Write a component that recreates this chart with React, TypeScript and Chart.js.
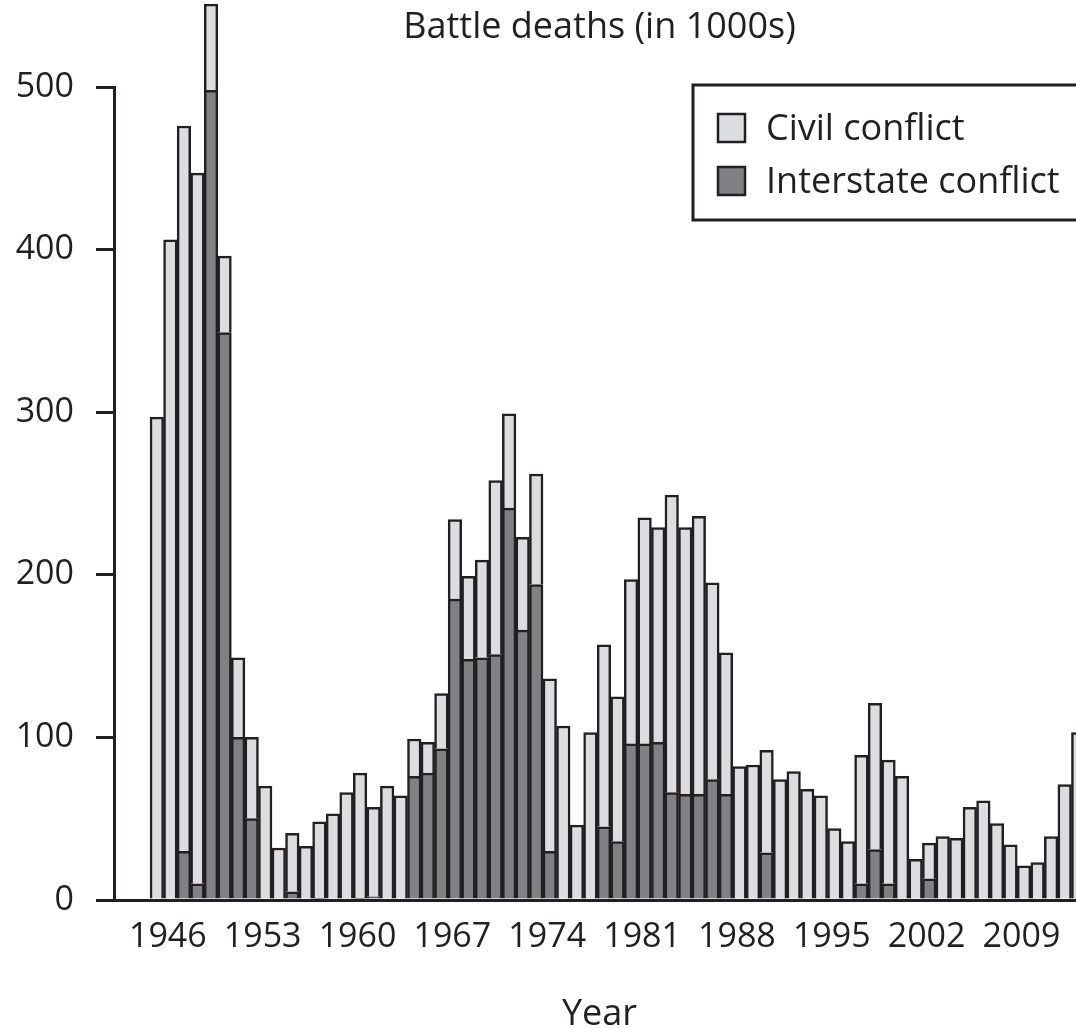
import React, { useEffect, useRef } from "react";
import { Chart, registerables } from "chart.js";

Chart.register(...registerables);

const years = [
  1946, 1947, 1948, 1949, 1950, 1951, 1952, 1953, 1954, 1955, 1956, 1957, 1958, 1959,
  1960, 1961, 1962, 1963, 1964, 1965, 1966, 1967, 1968, 1969, 1970, 1971, 1972, 1973,
  1974, 1975, 1976, 1977, 1978, 1979, 1980, 1981, 1982, 1983, 1984, 1985, 1986, 1987,
  1988, 1989, 1990, 1991, 1992, 1993, 1994, 1995, 1996, 1997, 1998, 1999, 2000, 2001,
  2002, 2003, 2004, 2005, 2006, 2007, 2008, 2009, 2010, 2011, 2012, 2013, 2014,
];

// Battle deaths in 1000s
const interstateDeaths = [
  0, 0, 30, 10, 498, 349, 100, 50, 0, 0, 5, 0, 1, 0,
  0, 1, 2, 0, 0, 76, 78, 93, 185, 148, 149, 151, 241, 166,
  194, 30, 0, 0, 0, 45, 36, 96, 96, 97, 66, 65, 65, 74,
  65, 0, 0, 29, 0, 0, 0, 0, 0, 0, 10, 31, 10, 0,
  0, 13, 0, 0, 0, 0, 0, 0, 0, 0, 0, 0, 0,
];

const civilDeaths = [
  297, 406, 446, 437, 53, 47, 49, 50, 70, 32, 36, 33, 47, 53,
  66, 77, 55, 70, 64, 23, 19, 34, 49, 51, 60, 107, 58, 57,
  68, 106, 107, 46, 103, 112, 89, 101, 139, 132, 183, 164, 171, 121,
  87, 82, 83, 63, 74, 79, 68, 64, 44, 36, 79, 90, 76, 76,
  25, 22, 39, 38, 57, 61, 47, 34, 21, 23, 39, 71, 103,
];

const xTickYears = [1946, 1953, 1960, 1967, 1974, 1981, 1988, 1995, 2002, 2009];
const yTickValues = [0, 100, 200, 300, 400, 500];

const LIGHT = "#dcdde0";
const DARK = "#808185";
const INK = "#231f20";
const FONT = "'Open Sans', 'DejaVu Sans', sans-serif";

const overlayPlugin = {
  id: "overlayText",
  afterDraw(chart: any) {
    const ctx = chart.ctx;
    const area = chart.chartArea;
    ctx.save();
    // top title
    ctx.fillStyle = INK;
    ctx.font = `36px ${FONT}`;
    ctx.textAlign = "center";
    ctx.textBaseline = "middle";
    ctx.fillText("Battle deaths (in 1000s)", (area.left + area.right) / 2, 28);

    // boxed legend
    const bx = 693;
    const by = 85;
    const bw = 420;
    const bh = 135;
    ctx.fillStyle = "#ffffff";
    ctx.fillRect(bx, by, bw, bh);
    ctx.lineWidth = 3;
    ctx.strokeStyle = INK;
    ctx.strokeRect(bx, by, bw, bh);

    const items = [
      { label: "Civil conflict", color: LIGHT, cy: 128 },
      { label: "Interstate conflict", color: DARK, cy: 181 },
    ];
    ctx.textAlign = "left";
    ctx.textBaseline = "middle";
    ctx.font = `36px ${FONT}`;
    for (const it of items) {
      ctx.fillStyle = it.color;
      ctx.fillRect(718, it.cy - 14, 27, 28);
      ctx.lineWidth = 2.5;
      ctx.strokeStyle = INK;
      ctx.strokeRect(718, it.cy - 14, 27, 28);
      ctx.fillStyle = INK;
      ctx.fillText(it.label, 766, it.cy + 2);
    }
    ctx.restore();
  },
};

export default function App() {
  const canvasRef = useRef<HTMLCanvasElement | null>(null);

  useEffect(() => {
    const canvas = canvasRef.current;
    if (!canvas) return;
    const barCommon = {
      borderColor: INK,
      borderWidth: 2.5,
      barPercentage: 1,
      categoryPercentage: 1,
      clip: false as any,
    };
    const chart = new Chart(canvas, {
      type: "bar",
      data: {
        datasets: [
          {
            label: "Interstate conflict",
            data: years.map((yr, i) => ({ x: yr, y: interstateDeaths[i] })),
            backgroundColor: DARK,
            ...barCommon,
          },
          {
            label: "Civil conflict",
            data: years.map((yr, i) => ({ x: yr, y: civilDeaths[i] })),
            backgroundColor: LIGHT,
            ...barCommon,
          },
        ],
      } as any,
      options: {
        animation: false,
        responsive: false,
        devicePixelRatio: 1,
        layout: { padding: { top: 87, right: 5, left: 0, bottom: 0 } },
        plugins: {
          legend: { display: false },
          tooltip: { enabled: false },
          title: { display: false },
        },
        scales: {
          x: {
            type: "linear",
            min: 1942.84,
            max: 2014.5,
            offset: false,
            stacked: true,
            grid: { display: false, drawTicks: false },
            border: { display: true, color: INK, width: 3 },
            afterBuildTicks: (scale: any) => {
              scale.ticks = xTickYears.map((v) => ({ value: v }));
            },
            afterFit: (scale: any) => {
              scale.height = 128;
            },
            ticks: {
              autoSkip: false,
              maxRotation: 0,
              padding: 17,
              labelOffset: 11,
              color: INK,
              font: { family: FONT, size: 34 },
              callback: (v: any) => String(v),
            },
            title: {
              display: true,
              text: "Year",
              color: INK,
              font: { family: FONT, size: 36 },
              padding: { top: 0, bottom: -8 },
            },
          },
          y: {
            min: 0,
            max: 500,
            stacked: true,
            afterBuildTicks: (scale: any) => {
              scale.ticks = yTickValues.map((v) => ({ value: v }));
            },
            afterFit: (scale: any) => {
              scale.width = 114;
            },
            grid: {
              drawOnChartArea: false,
              drawTicks: true,
              tickLength: 18,
              lineWidth: 3,
              color: INK,
            },
            border: { display: true, color: INK, width: 3 },
            ticks: {
              padding: 22,
              color: INK,
              font: { family: FONT, size: 34 },
              callback: (v: any) => String(v),
            },
          },
        },
      } as any,
      plugins: [overlayPlugin],
    });
    return () => chart.destroy();
  }, []);

  return (
    <div
      style={{
        position: "fixed",
        left: 0,
        top: 0,
        width: 1076,
        height: 1028,
        overflow: "hidden",
        background: "#ffffff",
      }}
    >
      <canvas
        ref={canvasRef}
        width={1090}
        height={1028}
        style={{ display: "block", width: 1090, height: 1028 }}
      />
    </div>
  );
}
